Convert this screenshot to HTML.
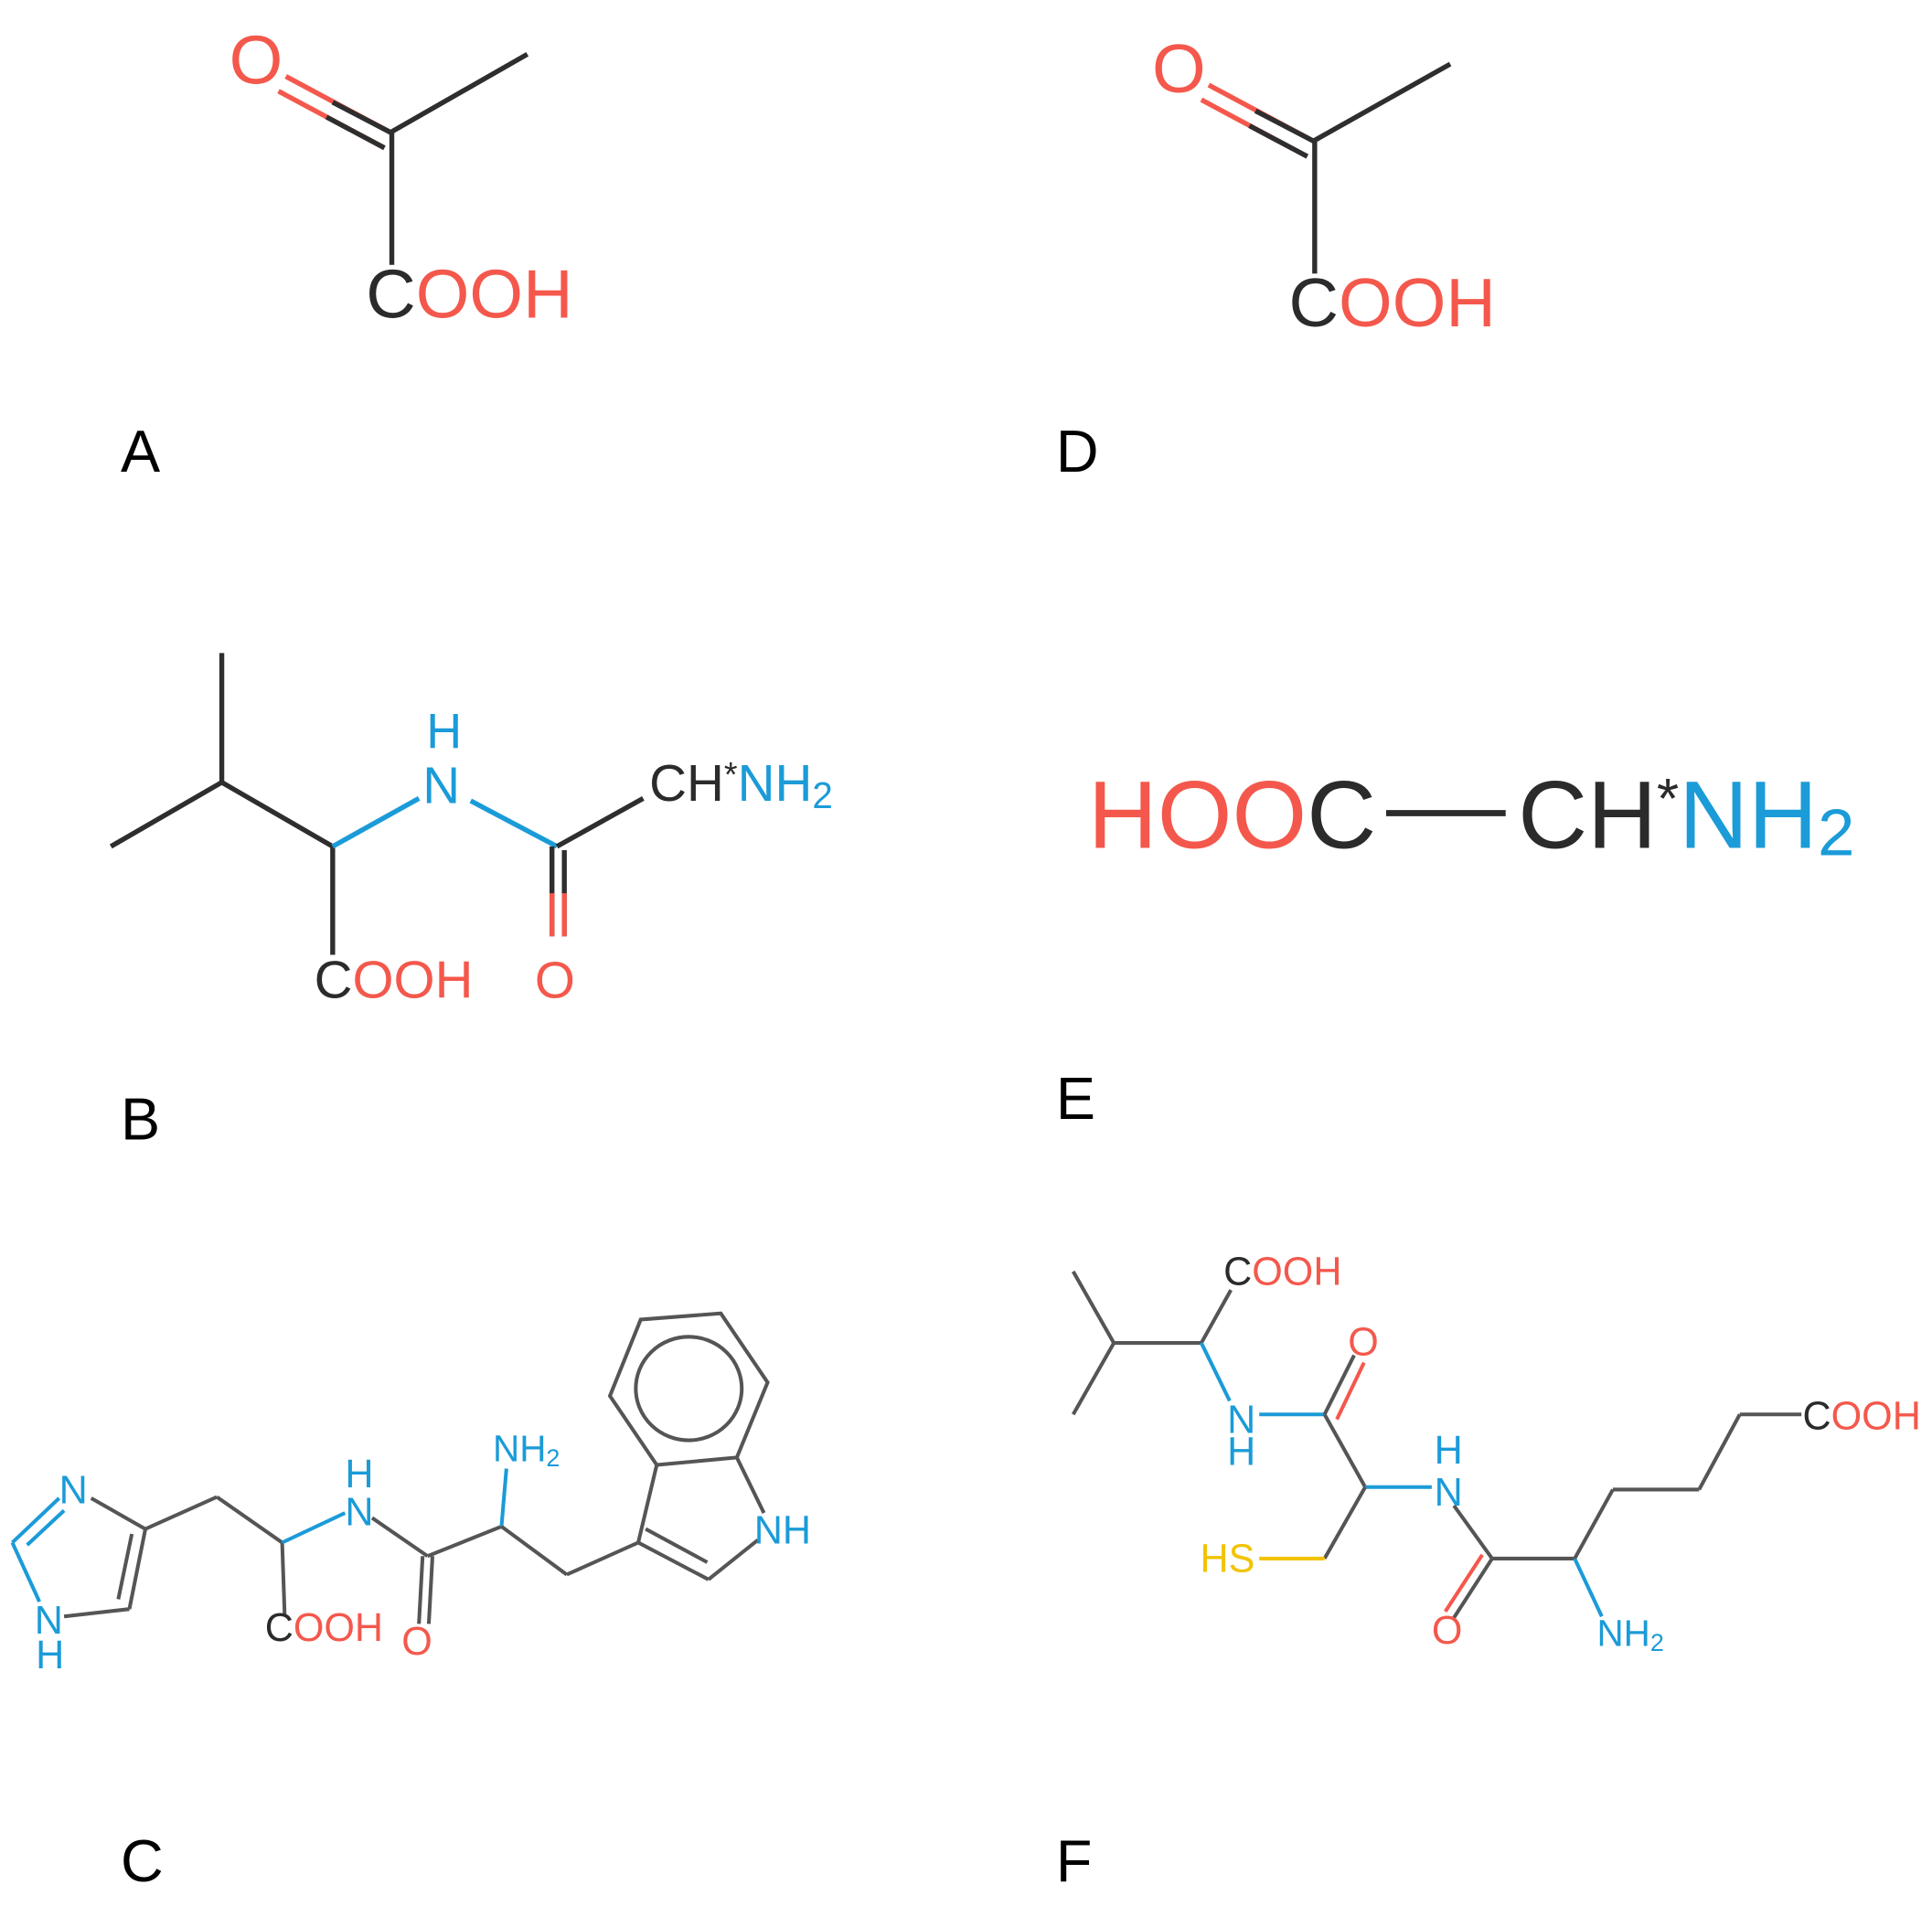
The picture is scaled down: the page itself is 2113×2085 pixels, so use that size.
<!DOCTYPE html>
<html><head><meta charset="utf-8"><style>
html,body{margin:0;padding:0;background:#fff;}
svg{display:block;}
text{font-family:"Liberation Sans",sans-serif;}
.r{fill:#f4584c}.b{fill:#1b9bd8}.k{fill:#2b2b2b}.y{fill:#f2c300}
</style></head><body>
<svg width="2113" height="2085" viewBox="0 0 1568 1547" preserveAspectRatio="none" xmlns="http://www.w3.org/2000/svg">
<!-- A -->
<g stroke="#2e2e2e" stroke-width="4" fill="none">
<line x1="232" y1="62" x2="318" y2="108" stroke="#f4584c"/>
<line x1="226" y1="74" x2="312" y2="120" stroke="#f4584c"/>
<line x1="270" y1="83" x2="318" y2="108"/>
<line x1="265" y1="95" x2="312" y2="120"/>
<line x1="316" y1="108" x2="428" y2="44"/>
<line x1="318" y1="108" x2="318" y2="215"/>
</g>
<text x="186" y="68" font-size="56" class="r">O</text>
<text x="297" y="258" font-size="56"><tspan class="k">C</tspan><tspan class="r">OOH</tspan></text>
<text x="98" y="383" font-size="48" fill="#000">A</text>
<!-- D -->
<g stroke="#2e2e2e" stroke-width="4" fill="none">
<line x1="981" y1="69" x2="1067" y2="115" stroke="#f4584c"/>
<line x1="975" y1="81" x2="1061" y2="127" stroke="#f4584c"/>
<line x1="1019" y1="90" x2="1067" y2="115"/>
<line x1="1014" y1="102" x2="1061" y2="127"/>
<line x1="1065" y1="115" x2="1177" y2="52"/>
<line x1="1067" y1="115" x2="1067" y2="222"/>
</g>
<text x="935" y="75" font-size="56" class="r">O</text>
<text x="1046" y="265" font-size="56"><tspan class="k">C</tspan><tspan class="r">OOH</tspan></text>
<text x="857" y="383" font-size="48" fill="#000">D</text>
<!-- B -->
<g stroke="#2e2e2e" stroke-width="4" fill="none">
<line x1="180" y1="530" x2="180" y2="635"/>
<line x1="90" y1="687" x2="180" y2="635"/>
<line x1="180" y1="635" x2="270" y2="687"/>
<line x1="270" y1="687" x2="270" y2="775"/>
<line x1="270" y1="687" x2="340" y2="648" stroke="#1b9bd8"/>
<line x1="382" y1="650" x2="452" y2="687" stroke="#1b9bd8"/>
<line x1="452" y1="687" x2="522" y2="648"/>
<line x1="448" y1="687" x2="448" y2="760"/>
<line x1="458" y1="690" x2="458" y2="760"/>
<line x1="448" y1="725" x2="448" y2="760" stroke="#f4584c"/>
<line x1="458" y1="725" x2="458" y2="760" stroke="#f4584c"/>
</g>
<text x="346" y="607" font-size="40" class="b">H</text>
<text x="343" y="652" font-size="42" class="b">N</text>
<text x="255" y="810" font-size="43"><tspan class="k">C</tspan><tspan class="r">OOH</tspan></text>
<text x="434" y="810" font-size="42" class="r">O</text>
<text x="527" y="650" font-size="42"><tspan class="k">CH</tspan><tspan class="k" font-size="28" dy="-12">*</tspan><tspan class="b" dy="12">NH</tspan><tspan class="b" font-size="30" dy="6">2</tspan></text>
<text x="98" y="925" font-size="48" fill="#000">B</text>
<!-- E -->
<line x1="1125" y1="660" x2="1222" y2="660" stroke="#2b2b2b" stroke-width="5"/>
<text x="883" y="688" font-size="78"><tspan class="r">HOO</tspan><tspan class="k">C</tspan></text>
<text x="1232" y="688" font-size="78"><tspan class="k">CH</tspan><tspan class="k" font-size="46" dy="-24">*</tspan><tspan class="b" dy="24">NH</tspan><tspan class="b" font-size="54" dy="6">2</tspan></text>
<text x="857" y="908" font-size="48" fill="#000">E</text>
<!-- C -->
<g stroke="#555" stroke-width="3" fill="none">
<line x1="10" y1="1252" x2="48" y2="1216" stroke="#1b9bd8"/>
<line x1="22" y1="1254" x2="52" y2="1226" stroke="#1b9bd8"/>
<line x1="10" y1="1252" x2="32" y2="1300" stroke="#1b9bd8"/>
<line x1="52" y1="1312" x2="105" y2="1306"/>
<line x1="105" y1="1306" x2="118" y2="1241"/>
<line x1="96" y1="1298" x2="107" y2="1245"/>
<line x1="118" y1="1241" x2="74" y2="1216"/>
<line x1="118" y1="1241" x2="176" y2="1215"/>
<line x1="176" y1="1215" x2="229" y2="1252"/>
<line x1="229" y1="1252" x2="231" y2="1310"/>
<line x1="229" y1="1252" x2="280" y2="1228" stroke="#1b9bd8"/>
<line x1="302" y1="1232" x2="347" y2="1263"/>
<line x1="343" y1="1263" x2="340" y2="1318"/>
<line x1="351" y1="1263" x2="348" y2="1318"/>
<line x1="347" y1="1263" x2="407" y2="1239"/>
<line x1="407" y1="1239" x2="411" y2="1192" stroke="#1b9bd8"/>
<line x1="407" y1="1239" x2="460" y2="1278"/>
<line x1="460" y1="1278" x2="518" y2="1252"/>
<line x1="518" y1="1252" x2="575" y2="1282"/>
<line x1="524" y1="1241" x2="574" y2="1268"/>
<line x1="575" y1="1282" x2="615" y2="1250"/>
<line x1="620" y1="1228" x2="598" y2="1183"/>
<line x1="518" y1="1252" x2="533" y2="1189"/>
<polygon points="533,1189 495,1133 520,1071 585,1066 623,1122 598,1183"/>
<ellipse cx="559" cy="1127" rx="43" ry="42"/>
</g>
<text x="48" y="1220" font-size="32" class="b">N</text>
<text x="28" y="1326" font-size="32" class="b">N</text>
<text x="29" y="1354" font-size="32" class="b">H</text>
<text x="280" y="1207" font-size="32" class="b">H</text>
<text x="280" y="1238" font-size="32" class="b">N</text>
<text x="215" y="1332" font-size="32"><tspan class="k">C</tspan><tspan class="r">OOH</tspan></text>
<text x="326" y="1343" font-size="32" class="r">O</text>
<text x="400" y="1186" font-size="30" class="b">NH<tspan font-size="20" dy="4">2</tspan></text>
<text x="612" y="1253" font-size="32" class="b">NH</text>
<text x="98" y="1527" font-size="48" fill="#000">C</text>
<!-- F -->
<g stroke="#555" stroke-width="3" fill="none">
<line x1="871" y1="1032" x2="904" y2="1090"/>
<line x1="871" y1="1148" x2="904" y2="1090"/>
<line x1="904" y1="1090" x2="975" y2="1090"/>
<line x1="975" y1="1090" x2="999" y2="1047"/>
<line x1="975" y1="1090" x2="998" y2="1137" stroke="#1b9bd8"/>
<line x1="1022" y1="1148" x2="1075" y2="1148" stroke="#1b9bd8"/>
<line x1="1075" y1="1148" x2="1099" y2="1100"/>
<line x1="1085" y1="1152" x2="1107" y2="1106" stroke="#f4584c"/>
<line x1="1075" y1="1148" x2="1108" y2="1207"/>
<line x1="1108" y1="1207" x2="1162" y2="1207" stroke="#1b9bd8"/>
<line x1="1108" y1="1207" x2="1075" y2="1265"/>
<line x1="1075" y1="1265" x2="1022" y2="1265" stroke="#f2c300"/>
<line x1="1180" y1="1222" x2="1211" y2="1265"/>
<line x1="1211" y1="1265" x2="1180" y2="1313"/>
<line x1="1203" y1="1262" x2="1173" y2="1308" stroke="#f4584c"/>
<line x1="1211" y1="1265" x2="1278" y2="1265"/>
<line x1="1278" y1="1265" x2="1300" y2="1312" stroke="#1b9bd8"/>
<line x1="1278" y1="1265" x2="1309" y2="1209"/>
<line x1="1309" y1="1209" x2="1379" y2="1209"/>
<line x1="1379" y1="1209" x2="1412" y2="1148"/>
<line x1="1412" y1="1148" x2="1462" y2="1148"/>
</g>
<text x="993" y="1043" font-size="32"><tspan class="k">C</tspan><tspan class="r">OOH</tspan></text>
<text x="1094" y="1100" font-size="32" class="r">O</text>
<text x="996" y="1163" font-size="32" class="b">N</text>
<text x="996" y="1189" font-size="32" class="b">H</text>
<text x="1164" y="1188" font-size="32" class="b">H</text>
<text x="1164" y="1222" font-size="32" class="b">N</text>
<text x="974" y="1276" font-size="32" class="y">HS</text>
<text x="1162" y="1334" font-size="32" class="r">O</text>
<text x="1296" y="1336" font-size="30" class="b">NH<tspan font-size="20" dy="4">2</tspan></text>
<text x="1463" y="1160" font-size="32"><tspan class="k">C</tspan><tspan class="r">OOH</tspan></text>
<text x="857" y="1527" font-size="48" fill="#000">F</text>
</svg>
</body></html>
